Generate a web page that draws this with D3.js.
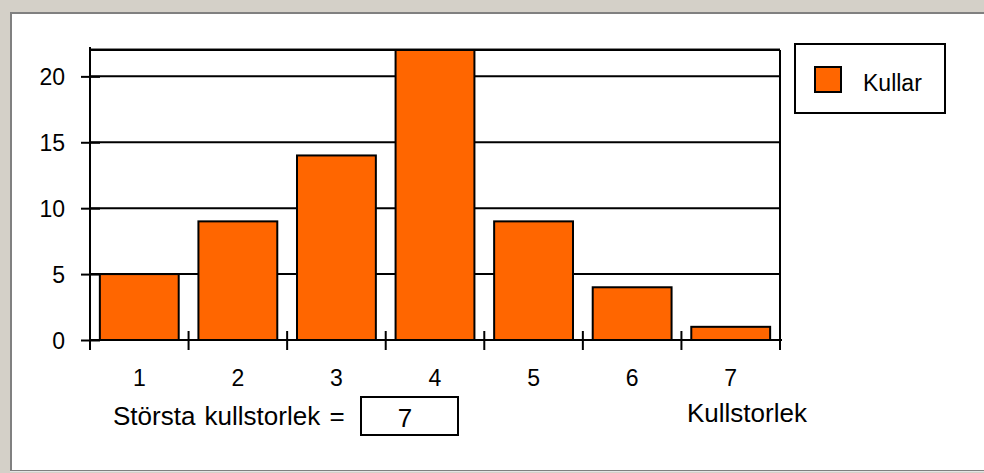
<!DOCTYPE html>
<html>
<head>
<meta charset="utf-8">
<script src="https://cdn.jsdelivr.net/npm/d3@7"></script>
<style>
  body { margin: 0; background: #fff; }
  text { font-family: "Liberation Sans", Arial, sans-serif; fill: #000; }
</style>
</head>
<body>
<svg id="chart" width="984" height="473"></svg>
<script>
// litter sizes and number of litters
const categories = [1, 2, 3, 4, 5, 6, 7];
const kullar = [5, 9, 14, 22, 9, 4, 1];
const yTicks = [0, 5, 10, 15, 20];
const seriesName = "Kullar";
const maxLabel = "Största kullstorlek =";
const maxValue = "7";
const xTitle = "Kullstorlek";

const svg = d3.select("#chart");
const orange = "#ff6600";

// window frame
svg.append("rect").attr("x", 0).attr("y", 0).attr("width", 984).attr("height", 473).attr("fill", "#d4d0c8");
svg.append("rect").attr("x", 10).attr("y", 12).attr("width", 974).attr("height", 459).attr("fill", "#808080");
svg.append("rect").attr("x", 12).attr("y", 14).attr("width", 972).attr("height", 456).attr("fill", "#fff");
svg.append("line").attr("x1", 10).attr("x2", 984).attr("y1", 471.5).attr("y2", 471.5)
    .attr("stroke", "#e4e4e4").attr("stroke-width", 1);

const x = d3.scaleBand()
    .domain(categories)
    .range([90, 780])
    .paddingInner(0.2)
    .paddingOuter(0.1);

const y = d3.scaleLinear()
    .domain([0, 22])
    .range([340, 50]);

const plot = svg.append("g");

// grid lines
plot.selectAll("line.grid")
  .data(yTicks.filter(d => d > 0))
  .enter().append("line")
    .attr("class", "grid")
    .attr("x1", 90).attr("x2", 780)
    .attr("y1", d => y(d)).attr("y2", d => y(d))
    .attr("stroke", "#000").attr("stroke-width", 2);

// top frame line
plot.append("line").attr("x1", 90).attr("x2", 780).attr("y1", 48.5).attr("y2", 48.5)
    .attr("stroke", "#888").attr("stroke-width", 1);
plot.append("line").attr("x1", 90).attr("x2", 780).attr("y1", y(22)).attr("y2", y(22))
    .attr("stroke", "#000").attr("stroke-width", 2);

// bars
plot.selectAll("rect.bar")
  .data(kullar)
  .enter().append("rect")
    .attr("class", "bar")
    .attr("x", (d, i) => x(categories[i]))
    .attr("y", d => y(d))
    .attr("width", x.bandwidth())
    .attr("height", d => y(0) - y(d))
    .attr("fill", orange)
    .attr("stroke", "#000")
    .attr("stroke-width", 2);

// right frame line
plot.append("line").attr("x1", 780).attr("x2", 780).attr("y1", y(22)).attr("y2", 350)
    .attr("stroke", "#000").attr("stroke-width", 2);

// y axis
const yAxis = d3.axisLeft(y).tickValues(yTicks).tickSize(0).tickPadding(0);
const gy = svg.append("g").attr("transform", "translate(90,0)").call(yAxis);
gy.select(".domain").remove();
gy.selectAll(".tick text")
    .attr("x", -25).attr("dy", "0.36em")
    .style("font-size", "23px").style("font-family", "Liberation Sans, Arial, sans-serif");
gy.selectAll(".tick").append("line")
    .attr("x1", -9).attr("x2", 10).attr("stroke", "#000").attr("stroke-width", 2);
svg.append("line").attr("x1", 90).attr("x2", 90).attr("y1", 47).attr("y2", 350)
    .attr("stroke", "#000").attr("stroke-width", 2);

// x axis
const xAxis = d3.axisBottom(x).tickSize(0).tickPadding(0);
const gx = svg.append("g").attr("transform", `translate(0,${y(0)})`).call(xAxis);
gx.select(".domain").remove();
gx.selectAll(".tick text")
    .attr("y", 46).attr("dy", 0)
    .style("font-size", "23px").style("font-family", "Liberation Sans, Arial, sans-serif");
svg.append("line").attr("x1", 90).attr("x2", 782).attr("y1", y(0)).attr("y2", y(0))
    .attr("stroke", "#000").attr("stroke-width", 2);
svg.selectAll("line.xtick")
  .data(categories)
  .enter().append("line")
    .attr("class", "xtick")
    .attr("x1", d => x(d) + x.bandwidth() + x.step() * x.paddingInner() / 2)
    .attr("x2", d => x(d) + x.bandwidth() + x.step() * x.paddingInner() / 2)
    .attr("y1", y(0) - 9).attr("y2", y(0) + 10)
    .attr("stroke", "#000").attr("stroke-width", 2);

// legend
const legend = svg.append("g");
legend.append("rect").attr("x", 795).attr("y", 44).attr("width", 150).attr("height", 69)
    .attr("fill", "#fff").attr("stroke", "#000").attr("stroke-width", 2);
legend.append("rect").attr("x", 815).attr("y", 67).attr("width", 26).attr("height", 25)
    .attr("fill", orange).attr("stroke", "#000").attr("stroke-width", 2);
legend.append("text").attr("x", 863).attr("y", 91).style("font-size", "23px").text(seriesName);

// bottom labels
svg.append("text").attr("x", 113).attr("y", 425).style("font-size", "26px")
    .style("word-spacing", "2px").text(maxLabel);
svg.append("rect").attr("x", 361).attr("y", 397).attr("width", 97).attr("height", 38)
    .attr("fill", "#fff").attr("stroke", "#000").attr("stroke-width", 2);
svg.append("text").attr("x", 405).attr("y", 427).attr("text-anchor", "middle")
    .style("font-size", "26px").text(maxValue);
svg.append("text").attr("x", 687).attr("y", 422).style("font-size", "26px").text(xTitle);
</script>
</body>
</html>
